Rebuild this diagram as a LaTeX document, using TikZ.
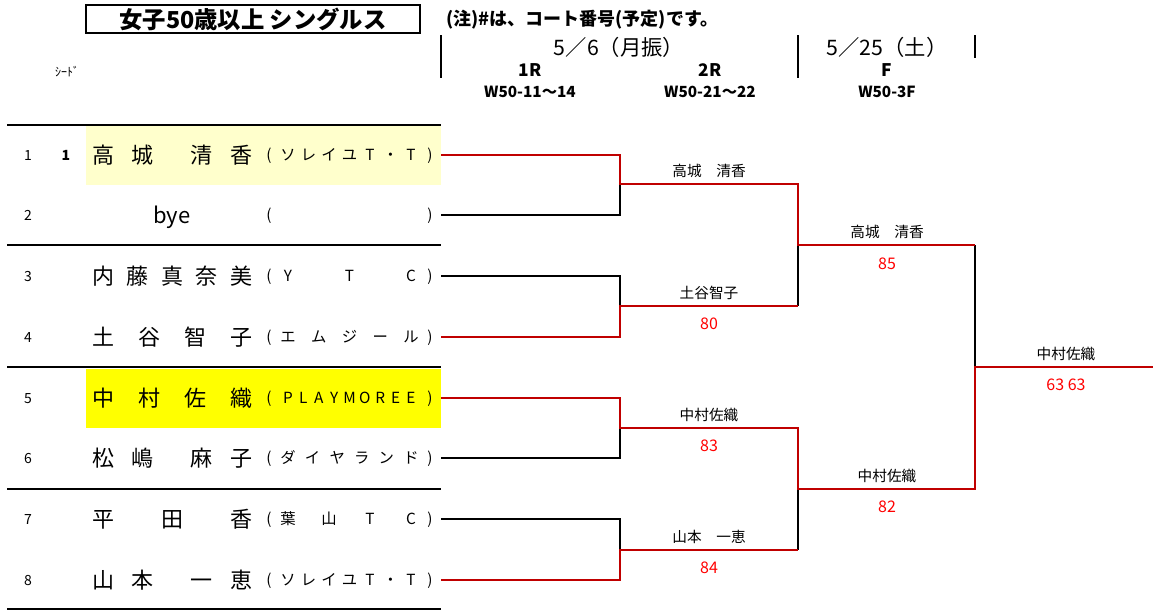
\documentclass[tikz,border=0pt]{standalone}
\usepackage{fontspec}
\setmainfont{Noto Sans CJK JP}
\definecolor{brred}{HTML}{C00000}
\definecolor{scorered}{HTML}{FF0000}
\definecolor{lightyel}{HTML}{FFFFCC}
\definecolor{hiyel}{HTML}{FFFF00}
\newcommand\placechars[4]{%
  \foreach \c/\x [count=\i] in {#4} {\node[#3] (#1-\i) at (\x,#2) {\c};}}
\tikzset{
  namef/.style={inner sep=0pt, text height=14.5pt, text depth=2pt, font=\fontsize{16.5}{18}\selectfont},
  clubf/.style={inner sep=0pt, text height=10.1pt, text depth=1.4pt, font=\fontsize{11.5}{13}\selectfont},
  numf/.style={inner sep=0pt, text height=9.24pt, text depth=1.26pt, font=\fontsize{10.5}{12}\selectfont},
  winf/.style={inner sep=0pt, text height=9.68pt, text depth=1.32pt, font=\fontsize{11}{13}\selectfont},
  scoref/.style={inner sep=0pt, text height=10.56pt, text depth=1.44pt, font=\fontsize{12}{14}\selectfont, text=scorered},
  redline/.style={draw=brred, line width=1.5pt},
  blkline/.style={draw=black, line width=1.5pt},
  tabrule/.style={draw=black, line width=2.2pt},
  hdrule/.style={draw=black, line width=1.5pt},
  hdtext/.style={inner sep=0pt},
}
\begin{document}
\begin{tikzpicture}[x=0.75pt, y=-0.75pt]
\useasboundingbox (0,0) rectangle (1153,611);
% highlights
\fill[lightyel] (86,126) rectangle (441,185);
\fill[hiyel] (86,369) rectangle (441,428);
% table rules
\foreach \y [count=\i] in {125,245,367,489,609} {\draw[tabrule] (7,\y) -- (441,\y);}
% title
\node[draw, line width=1.5pt, minimum width=250.5pt, minimum height=21pt, inner sep=0pt,
      font=\fontsize{17.5}{19}\selectfont\bfseries] (title) at (253,19) {女子50歳以上 シングルス};
\node[anchor=west, hdtext, font=\fontsize{13.5}{15}\selectfont\bfseries] (note) at (446,20) {(注)\#は、コート番号(予定)です。};
\node[hdtext, font=\fontsize{9}{10}\selectfont] (seedlbl) at (67,72) {ｼｰﾄﾞ};
% header rules
\draw[hdrule] (441,35) -- (441,78);
\draw[hdrule] (798,35) -- (798,78);
\draw[hdrule] (975,35) -- (975,58);
\node[hdtext, font=\fontsize{16}{18}\selectfont] (d1) at (619,47) {5／6（月振）};
\node[hdtext, font=\fontsize{16}{18}\selectfont] (d2) at (887,47) {5／25（土）};
\node[hdtext, font=\fontsize{13}{15}\selectfont\bfseries] (r1h) at (530,70) {1R};
\node[hdtext, font=\fontsize{13}{15}\selectfont\bfseries] (r2h) at (710,70) {2R};
\node[hdtext, font=\fontsize{13}{15}\selectfont\bfseries] (fh) at (887,70) {F};
\node[hdtext, font=\fontsize{11.5}{13}\selectfont\bfseries] (c1h) at (530,92) {W50-11～14};
\node[hdtext, font=\fontsize{11.5}{13}\selectfont\bfseries] (c2h) at (710,92) {W50-21～22};
\node[hdtext, font=\fontsize{11.5}{13}\selectfont\bfseries] (c3h) at (887,92) {W50-3F};
% row numbers
\foreach \y [count=\i] in {155,215,276,337,398,458,519,580} {\node[numf] (no\i) at (28,\y) {\i};}
\node[numf, font=\fontsize{10.5}{12}\selectfont\bfseries] (seed1) at (66,155) {1};
% names
\placechars{n1}{155}{namef}{高/103,城/142,清/201,香/241}
\node[namef] (n2-1) at (172,215) {bye};
\placechars{n3}{276}{namef}{内/103,藤/137.5,真/172,奈/206.5,美/241}
\placechars{n4}{337}{namef}{土/103,谷/149,智/195,子/241}
\placechars{n5}{398}{namef}{中/103,村/149,佐/195,織/241}
\placechars{n6}{458}{namef}{松/103,嶋/142,麻/201,子/241}
\placechars{n7}{519}{namef}{平/103,田/172,香/241}
\placechars{n8}{580}{namef}{山/103,本/142,一/201,恵/241}
% clubs
\foreach \y [count=\i] in {155,215,276,337,398,458,519,580} {
  \node[clubf] (po\i) at (269,\y) {(};
  \node[clubf] (pc\i) at (430,\y) {)};
}
\placechars{c1}{155}{clubf}{ソ/288,レ/308.5,イ/329,ユ/349.5,T/370,・/390.5,T/411}
\placechars{c3}{276}{clubf}{Y/288,T/349.5,C/411}
\placechars{c4}{337}{clubf}{エ/288,ム/318.75,ジ/349.5,ー/380.25,ル/411}
\placechars{c5}{398}{clubf}{P/288,L/303.4,A/318.75,Y/334.1,M/349.5,O/364.9,R/380.25,E/395.6,E/411}
\placechars{c6}{458}{clubf}{ダ/288,イ/312.6,ヤ/337.2,ラ/361.8,ン/386.4,ド/411}
\placechars{c7}{519}{clubf}{葉/288,山/329,T/370,C/411}
\placechars{c8}{580}{clubf}{ソ/288,レ/308.5,イ/329,ユ/349.5,T/370,・/390.5,T/411}
% bracket coordinates
\coordinate (r1) at (441,155); \coordinate (r2) at (441,215);
\coordinate (r3) at (441,276); \coordinate (r4) at (441,337);
\coordinate (r5) at (441,398); \coordinate (r6) at (441,458);
\coordinate (r7) at (441,519); \coordinate (r8) at (441,580);
\coordinate (a1) at (620,184); \coordinate (a2) at (620,306);
\coordinate (a3) at (620,428); \coordinate (a4) at (620,550);
\coordinate (b1) at (798,245); \coordinate (b2) at (798,489);
\coordinate (f1) at (975,367); \coordinate (e1) at (1153,367);
% black (losing) lines
\draw[blkline] (r2) -| (a1);
\draw[blkline] (r3) -| (a2);
\draw[blkline] (r6) -| (a3);
\draw[blkline] (r7) -| (a4);
\draw[blkline] (a2 -| b1) -- (b1);
\draw[blkline] (a4 -| b2) -- (b2);
\draw[blkline] (b1 -| f1) -- (f1);
% red (winning) lines
\draw[redline] (r1) -| (a1) -- (a1 -| b1) -- (b1) -- (b1 -| f1);
\draw[redline] (r4) -| (a2) -- (a2 -| b1);
\draw[redline] (r5) -| (a3) -- (a3 -| b2) -- (b2) -- (b2 -| f1) -- (f1) -- (e1);
\draw[redline] (r8) -| (a4) -- (a4 -| b2);
% winners and scores
\node[winf] (w1) at (709,171) {高城　清香};
\node[winf] (w2) at (709,293) {土谷智子};
\node[scoref] (s2) at (709,323) {80};
\node[winf] (w3) at (887,232) {高城　清香};
\node[scoref] (s3) at (887,263) {85};
\node[winf] (w4) at (709,415) {中村佐織};
\node[scoref] (s4) at (709,445) {83};
\node[winf] (w5) at (709,537) {山本　一恵};
\node[scoref] (s5) at (709,567) {84};
\node[winf] (w6) at (887,476) {中村佐織};
\node[scoref] (s6) at (887,506) {82};
\node[winf] (w7) at (1066,354) {中村佐織};
\node[scoref] (s7) at (1066,384) {63 63};
\end{tikzpicture}
\end{document}
